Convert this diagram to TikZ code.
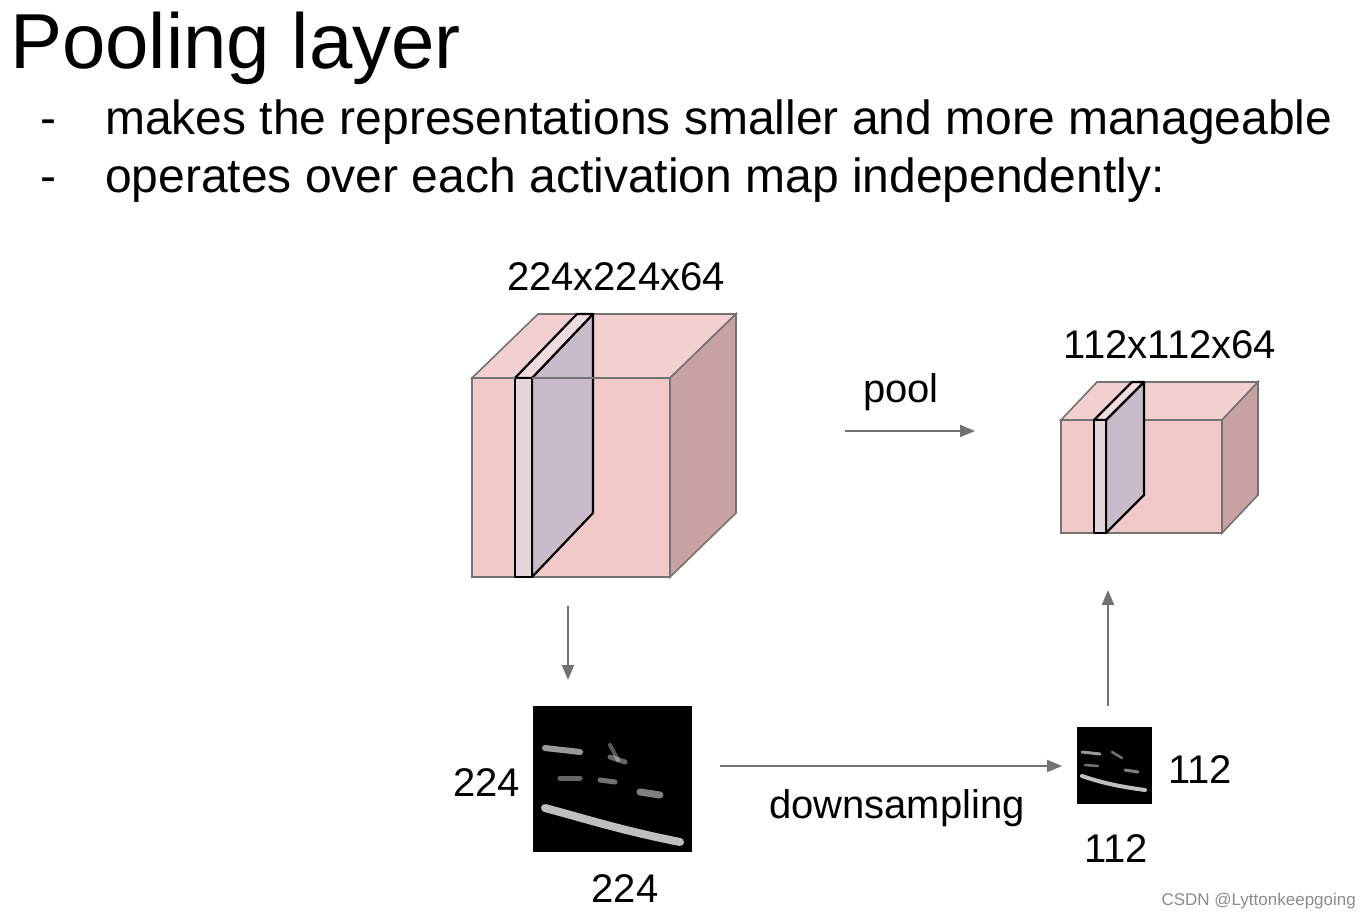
\documentclass[tikz,border=0pt]{standalone}
\usepackage{fontspec}
\setmainfont{Liberation Sans}
\usetikzlibrary{arrows.meta}
\begin{document}
\begin{tikzpicture}[x=1pt,y=-1pt,
  edge/.style={draw=black!55,line width=1.6pt},
  slab/.style={draw=black,line width=2.2pt,line join=round},
  arr/.style={draw=black!55,line width=2pt,-{Triangle[length=15pt,width=12pt]}},
  lbl/.style={font=\fontsize{40}{44}\selectfont,inner sep=0pt},
  bul/.style={anchor=base west,inner sep=0pt,font=\fontsize{48}{52}\selectfont},
  streak/.style={white,line cap=round,opacity=0.6}]
\useasboundingbox[fill=white] (0,0) rectangle (1370,918);
% title
\node[anchor=base west,inner sep=0pt,font=\fontsize{78}{80}\selectfont] (title) at (10,68) {Pooling layer};
\node[bul] (d1) at (40,134) {-};
\node[bul] (b1) at (105,134) {makes the representations smaller and more manageable};
\node[bul] (d2) at (40,192) {-};
\node[bul] (b2) at (105,192) {operates over each activation map independently:};
% big cube
\fill[fill={rgb,255:red,242;green,208;blue,208},edge] (472,378) -- (538,314) -- (736,314) -- (670,378) -- cycle;
\fill[fill={rgb,255:red,201;green,163;blue,163},edge] (670,378) -- (736,314) -- (736,513) -- (670,577) -- cycle;
\fill[fill={rgb,255:red,242;green,201;blue,201},edge] (472,378) rectangle (670,577);
% slab big
\fill[fill={rgb,255:red,200;green,188;blue,203},slab] (532,378) -- (593,314) -- (593,513) -- (532,577) -- cycle;
\fill[fill={rgb,255:red,240;green,220;blue,222},slab] (515,378) -- (577,314) -- (593,314) -- (532,378) -- cycle;
\fill[fill={rgb,255:red,226;green,214;blue,218},slab] (515,378) rectangle (532,577);
\draw[edge] (532,378) -- (670,378);
\draw[edge] (472,378) -- (515,378);
% small cube
\fill[fill={rgb,255:red,242;green,208;blue,208},edge] (1061,420) -- (1097,382) -- (1258,382) -- (1222,420) -- cycle;
\fill[fill={rgb,255:red,201;green,163;blue,163},edge] (1222,420) -- (1258,382) -- (1258,495) -- (1222,533) -- cycle;
\fill[fill={rgb,255:red,242;green,201;blue,201},edge] (1061,420) rectangle (1222,533);
\fill[fill={rgb,255:red,200;green,188;blue,203},slab] (1106,420) -- (1144,382) -- (1144,495) -- (1106,533) -- cycle;
\fill[fill={rgb,255:red,240;green,220;blue,222},slab] (1094,420) -- (1132,382) -- (1144,382) -- (1106,420) -- cycle;
\fill[fill={rgb,255:red,226;green,214;blue,218},slab] (1094,420) rectangle (1106,533);
% labels
\node[lbl,anchor=base] (l1) at (616,290) {224x224x64};
\node[lbl,anchor=base] (l2) at (1170,358) {112x112x64};
\node[lbl,anchor=base] (lp) at (901,402) {pool};
% images
\node[fill=black,minimum width=159pt,minimum height=146pt,inner sep=0pt,anchor=north west] (img1) at (533,706) {};
\begin{scope}
\clip (533,706) rectangle (692,852);
\draw[streak,line width=6pt] (545,748) -- (580,752);
\draw[streak,line width=5pt,opacity=0.4] (610,757) -- (625,762);
\draw[streak,line width=5pt,opacity=0.4] (560,778) -- (580,778);
\draw[streak,line width=5pt,opacity=0.45] (600,780) -- (615,782);
\draw[streak,line width=7pt,opacity=0.5] (640,792) -- (660,795);
\draw[streak,line width=8pt,opacity=0.75] (545,808) .. controls (590,820) and (620,830) .. (680,842);
\draw[streak,line width=4pt,opacity=0.35] (610,745) -- (618,760);
\end{scope}
\node[fill=black,minimum width=75pt,minimum height=77pt,inner sep=0pt,anchor=north west] (img2) at (1077,727) {};
\begin{scope}
\clip (1077,727) rectangle (1152,804);
\draw[streak,line width=3pt] (1082,752) -- (1100,754);
\draw[streak,line width=2.5pt,opacity=0.45] (1112,752) -- (1122,758);
\draw[streak,line width=2.5pt,opacity=0.45] (1085,765) -- (1098,766);
\draw[streak,line width=3pt,opacity=0.5] (1125,770) -- (1138,772);
\draw[streak,line width=4pt,opacity=0.75] (1082,776) .. controls (1100,782) and (1115,786) .. (1145,790);
\end{scope}
\node[lbl,anchor=base east] (n224a) at (520,796) {224};
\node[lbl,anchor=base] (n224b) at (625,902) {224};
\node[lbl,anchor=base west] (n112a) at (1168,783) {112};
\node[lbl,anchor=base] (n112b) at (1116,862) {112};
\node[lbl,anchor=base] (ld) at (897,818) {downsampling};
% arrows
\coordinate (a1s) at (568,606); \coordinate (a1e) at (568,680);
\coordinate (a2s) at (845,431); \coordinate (a2e) at (975,431);
\coordinate (a3s) at (720,766); \coordinate (a3e) at (1062,766);
\coordinate (a4s) at (1108,706); \coordinate (a4e) at (1108,590);
\draw[arr] (a1s) -- (a1e);
\draw[arr] (a2s) -- (a2e);
\draw[arr] (a3s) -- (a3e);
\draw[arr] (a4s) -- (a4e);
\node[anchor=base east,inner sep=0pt,font=\fontsize{17}{18}\selectfont,text=black!45] (wm) at (1356,905) {CSDN @Lyttonkeepgoing};
\end{tikzpicture}
\end{document}
